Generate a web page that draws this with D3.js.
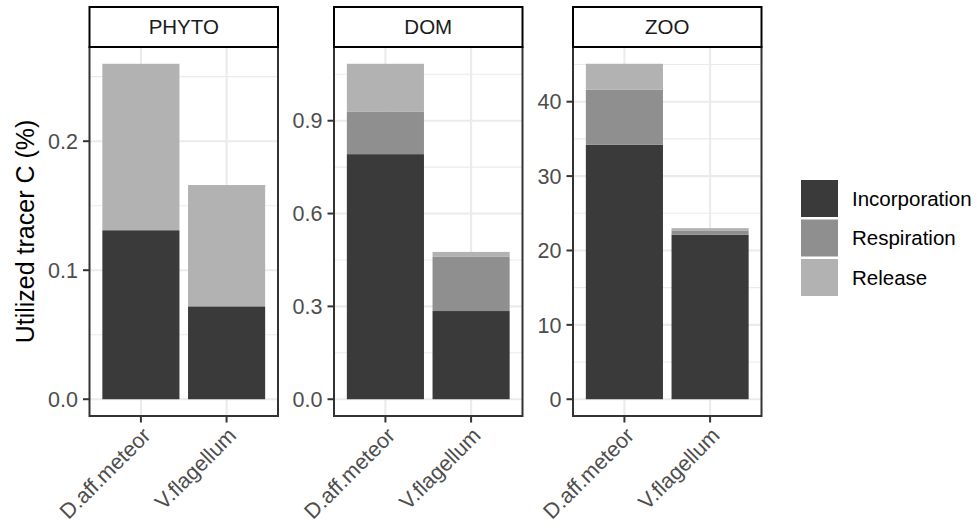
<!DOCTYPE html>
<html><head><meta charset="utf-8">
<script src="https://cdn.jsdelivr.net/npm/d3@7"></script>
<style>body{margin:0;background:#fff}svg{display:block;font-family:"Liberation Sans",Arial,sans-serif}</style>
</head><body>
<script>
const panels = ["PHYTO", "DOM", "ZOO"];
const species = ["D.aff.meteor", "V.flagellum"];
const components = ["Incorporation", "Respiration", "Release"];
// values per panel, per species
const incorporation = [[0.131, 0.072], [0.792, 0.285], [34.2, 22.1]];
const respiration   = [[0, 0],         [0.138, 0.175], [7.4, 0.6]];
const release       = [[0.129, 0.094], [0.154, 0.016], [3.5, 0.3]];
const yTicks = [[0, 0.1, 0.2], [0, 0.3, 0.6, 0.9], [0, 10, 20, 30, 40]];
const yFormats = [".1f", ".1f", "d"];
const fills = ["#3a3a3a", "#8f8f8f", "#b2b2b2"];

(function () {
const W = 977, H = 528;
const svg = d3.select("body").append("svg").attr("width", W).attr("height", H);
const panelLeft = [89.5, 334, 573], panelW = 188.5;
const pTop = 47, pBottom = 416, stripTop = 7;
const axisFont = 21.5;
const series = [incorporation, respiration, release];

panels.forEach((p, pi) => {
  const x0 = panelLeft[pi];
  const g = svg.append("g");
  const rows = species.map((s, si) => {
    const r = {species: s};
    components.forEach((c, ci) => r[c] = series[ci][pi][si]);
    return r;
  });
  const stacked = d3.stack().keys(components)(rows);
  const maxV = d3.max(rows, r => components.reduce((a, c) => a + r[c], 0));
  const y = d3.scaleLinear().domain([-0.05 * maxV, 1.05 * maxV]).range([pBottom, pTop]);
  // discrete x: ggplot expansion 0.6 units each side
  const xs = d3.scalePoint().domain(species).range([x0 + panelW * 0.6 / 2.2, x0 + panelW * 1.6 / 2.2]);
  const unit = panelW / 2.2;
  const cx = s => xs(s);

  g.append("rect").attr("x", x0).attr("y", pTop).attr("width", panelW).attr("height", pBottom - pTop).attr("fill", "#fff");
  const tks = yTicks[pi];
  const step = tks[1] - tks[0];
  const minors = [];
  for (let v = tks[0] - step / 2; v <= y.domain()[1]; v += step) if (v >= y.domain()[0]) minors.push(v);
  g.selectAll(".minor").data(minors).join("line")
    .attr("x1", x0).attr("x2", x0 + panelW).attr("y1", d => y(d)).attr("y2", d => y(d))
    .attr("stroke", "#ebebeb").attr("stroke-width", 1.1);
  g.selectAll(".majory").data(tks).join("line")
    .attr("x1", x0).attr("x2", x0 + panelW).attr("y1", d => y(d)).attr("y2", d => y(d))
    .attr("stroke", "#ebebeb").attr("stroke-width", 2.1);
  g.selectAll(".majorx").data(species).join("line")
    .attr("x1", d => cx(d)).attr("x2", d => cx(d)).attr("y1", pTop).attr("y2", pBottom)
    .attr("stroke", "#ebebeb").attr("stroke-width", 2.1);
  stacked.forEach((layer, li) => {
    g.selectAll(null).data(layer).join("rect")
      .attr("x", d => cx(d.data.species) - 0.45 * unit)
      .attr("width", 0.9 * unit)
      .attr("y", d => y(d[1]))
      .attr("height", d => Math.max(0, y(d[0]) - y(d[1])))
      .attr("fill", fills[li]);
  });
  g.append("rect").attr("x", x0).attr("y", pTop).attr("width", panelW).attr("height", pBottom - pTop)
    .attr("fill", "none").attr("stroke", "#333").attr("stroke-width", 2);
  g.append("rect").attr("x", x0).attr("y", stripTop).attr("width", panelW).attr("height", pTop - stripTop)
    .attr("fill", "#fff").attr("stroke", "#000").attr("stroke-width", 2);
  g.append("text").attr("x", x0 + panelW / 2).attr("y", (stripTop + pTop) / 2).attr("dy", "0.36em")
    .attr("text-anchor", "middle").attr("font-size", 20.5).attr("fill", "#1a1a1a").text(p);
  const fmt = d3.format(yFormats[pi]);
  g.selectAll(".yt").data(tks).join("line")
    .attr("x1", x0 - 6.5).attr("x2", x0).attr("y1", d => y(d)).attr("y2", d => y(d))
    .attr("stroke", "#333").attr("stroke-width", 2);
  g.selectAll(".yl").data(tks).join("text")
    .attr("x", x0 - 11.5).attr("y", d => y(d)).attr("dy", "0.36em")
    .attr("text-anchor", "end").attr("font-size", axisFont).attr("fill", "#4d4d4d").text(d => fmt(d));
  g.selectAll(".xt").data(species).join("line")
    .attr("x1", d => cx(d)).attr("x2", d => cx(d)).attr("y1", pBottom).attr("y2", pBottom + 6.5)
    .attr("stroke", "#333").attr("stroke-width", 2);
  g.selectAll(".xl").data(species).join("text")
    .attr("transform", d => `translate(${cx(d)},${pBottom + 10}) rotate(-45)`)
    .attr("dy", "0.72em").attr("text-anchor", "end").attr("font-size", axisFont)
    .attr("fill", "#4d4d4d").text(d => d);
});

svg.append("text").attr("transform", `translate(34,231.5) rotate(-90)`)
  .attr("text-anchor", "middle").attr("font-size", 25).attr("fill", "#000").text("Utilized tracer C (%)");

const lg = svg.append("g");
components.forEach((c, i) => {
  const yy = 180 + i * 39.5;
  lg.append("rect").attr("x", 801).attr("y", yy).attr("width", 37).attr("height", 37).attr("fill", fills[i]);
  lg.append("text").attr("x", 852).attr("y", yy + 18.5).attr("dy", "0.36em")
    .attr("font-size", 20.5).attr("fill", "#000").text(c);
});
})();
</script>
</body></html>
